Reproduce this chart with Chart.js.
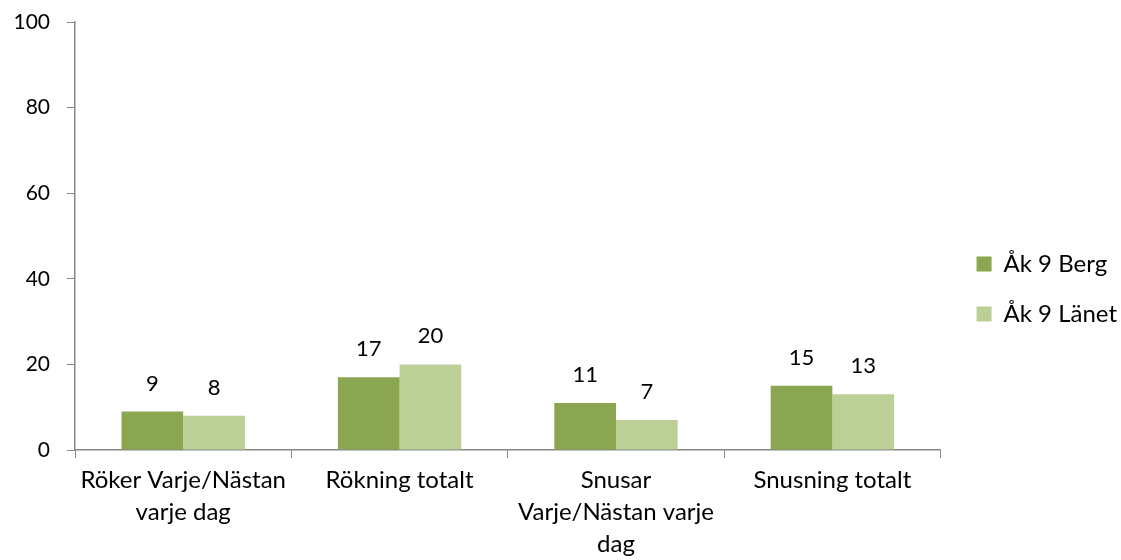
<!DOCTYPE html>
<html><head><meta charset="utf-8">
<script src="https://cdn.jsdelivr.net/npm/chart.js@4"></script>
<style>html,body{margin:0;padding:0;background:#fff}#w{width:1121px;height:560px}</style>
</head><body><div id="w"><canvas id="c"></canvas></div>
<script>
const categories = [["Röker Varje/Nästan","varje dag"],"Rökning totalt",["Snusar","Varje/Nästan varje","dag"],"Snusning totalt"];
const seriesNames = ["Åk 9 Berg","Åk 9 Länet"];
const bergValues = [9,17,11,15];
const lanetValues = [8,20,7,13];
const yTicks = [0,20,40,60,80,100];
const FONT = "Lato, 'Open Sans', sans-serif";

const labelPlugin = {
  id:'vals',
  afterLayout(chart){ if(chart.legend){ chart.legend.left += 10; chart.legend.right += 10; } },
  afterDatasetsDraw(chart){
    const ctx = chart.ctx;
    ctx.save();
    ctx.font = "22px " + FONT;
    ctx.fillStyle = "#000";
    ctx.textAlign = "center";
    ctx.textBaseline = "middle";
    chart.data.datasets.forEach((ds,i)=>{
      chart.getDatasetMeta(i).data.forEach((bar,j)=>{
        ctx.fillText(String(ds.data[j]), bar.x, bar.y - 28);
      });
    });
    ctx.restore();
  }
};

new Chart(document.getElementById('c'),{
  type:'bar',
  data:{labels:categories,datasets:[
    {label:seriesNames[0],data:bergValues,backgroundColor:'#8BA650'},
    {label:seriesNames[1],data:lanetValues,backgroundColor:'#BBCF97'}
  ]},
  options:{
    responsive:true,maintainAspectRatio:false,animation:false,
    datasets:{bar:{categoryPercentage:0.57,barPercentage:1,borderWidth:0}},
    layout:{padding:{top:2,right:4,left:0,bottom:0}},
    plugins:{
      tooltip:{enabled:false},
      legend:{position:'right',align:'center',
        title:{display:true,text:' ',font:{size:10},padding:2},
        labels:{boxWidth:15,boxHeight:15,padding:26,color:'#000',font:{family:FONT,size:24}}}
    },
    scales:{
      x:{
        grid:{drawOnChartArea:false,drawTicks:true,tickLength:8,color:'#868686',offset:true},
        border:{color:'#868686',width:1.5},
        ticks:{color:'#000',font:{family:FONT,size:24,lineHeight:1.33},padding:6,maxRotation:0,autoSkip:false},
        afterFit(s){s.height=110;}
      },
      y:{
        min:0,max:100,
        afterBuildTicks(s){s.ticks=yTicks.map(v=>({value:v}));},
        grid:{drawOnChartArea:false,drawTicks:true,tickLength:8,color:'#868686'},
        border:{color:'#868686',width:1.5},
        ticks:{color:'#000',font:{family:FONT,size:21},padding:17},
        afterFit(s){s.width=75;s.paddingTop=22;s.paddingBottom=0;}
      }
    }
  },
  plugins:[labelPlugin]
});
</script></body></html>
